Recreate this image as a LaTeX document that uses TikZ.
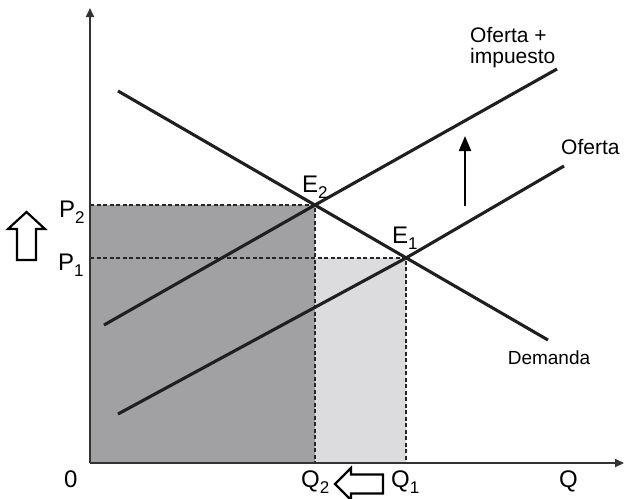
\documentclass[tikz,border=0pt]{standalone}
\usepackage{fontspec}
\setmainfont{Liberation Sans}
\usetikzlibrary{arrows.meta}
\newcommand{\sbs}[1]{\raisebox{-0.27em}{\fontsize{17}{18}\selectfont #1}}
\begin{document}
\begin{tikzpicture}[x=1pt,y=-1pt,
  lbl/.style={inner sep=0pt,font=\fontsize{20}{22}\selectfont},
  big/.style={inner sep=0pt,font=\fontsize{24}{26}\selectfont},
  curve/.style={line width=3.1pt,color=black!88},
  axis/.style={line width=2pt,color=black!80,-{Triangle[length=9pt,width=8pt]}},
  guide/.style={line width=1.3pt,dashed,dash pattern=on 4pt off 2.5pt,color=black!85},
  hollow/.style={line width=2.2pt,draw=black,fill=white,line join=miter}]
\useasboundingbox (0,0) rectangle (626,498);
% coordinates
\coordinate (O) at (90,463);
\coordinate (ytop) at (90,8);
\coordinate (xend) at (624,463);
\coordinate (E2) at (315,205);
\coordinate (E1) at (406,258);
\coordinate (P2) at (90,205);
\coordinate (P1) at (90,258);
\coordinate (Q2) at (315,463);
\coordinate (Q1) at (406,463);
% areas
\fill[fill={rgb,255:red,161;green,161;blue,164}] (O) rectangle (E2);
\fill[fill={rgb,255:red,220;green,220;blue,223}] (Q2) rectangle (E1);
% guides
\draw[guide] (P2) -- (E2) -- (Q2);
\draw[guide] (P1) -- (E1) -- (Q1);
\draw[guide] (O) -- (Q1);
% axes
\draw[axis] (O) -- (ytop);
\draw[axis] (O) -- (xend);
% curves
\coordinate (d1) at (118,91);
\coordinate (d2) at (548,340);
\coordinate (s1) at (118,414);
\coordinate (s2) at (564,166);
\coordinate (t1) at (104,325);
\coordinate (t2) at (557,69);
\draw[curve] (d1) -- (d2);
\draw[curve] (s1) -- (E1) -- (s2);
\draw[curve] (t1) -- (E2) -- (t2);
% shift arrow
\coordinate (a1) at (465,206);
\coordinate (a2) at (465,136);
\draw[line width=2.2pt,-{Triangle[length=15pt,width=12pt]}] (a1) -- (a2);
% labels
\node[lbl,align=left,anchor=south west,font=\fontsize{21}{23}\selectfont] (lt) at (470,68) {Oferta +\\[-2pt]impuesto};
\node[lbl,anchor=west,font=\fontsize{21}{22}\selectfont] (lo) at (561,147) {Oferta};
\node[lbl,anchor=center,font=\fontsize{19}{20}\selectfont] (ld) at (549,358) {Demanda};
\node[big,anchor=base west] (le2) at (302,192) {E\sbs{2}};
\node[big,anchor=base west] (le1) at (392,243) {E\sbs{1}};
\node[big,anchor=base west] (lp2) at (59,217) {P\sbs{2}};
\node[big,anchor=base west] (lp1) at (58,270) {P\sbs{1}};
\node[big,anchor=base west] (l0) at (64,487) {0};
\node[big,anchor=base west] (lq2) at (301,487) {Q\sbs{2}};
\node[big,anchor=base west] (lq1) at (391,487) {Q\sbs{1}};
\node[big,anchor=base west] (lq) at (559,487) {Q};
% hollow arrows
\draw[hollow] (26.5,212) -- (45,229) -- (36,229) -- (36,260) -- (17,260) -- (17,229) -- (8,229) -- cycle;
\draw[hollow] (335,484) -- (351,468) -- (351,474.5) -- (383,474.5) -- (383,493.5) -- (351,493.5) -- (351,500) -- cycle;
\end{tikzpicture}
\end{document}
